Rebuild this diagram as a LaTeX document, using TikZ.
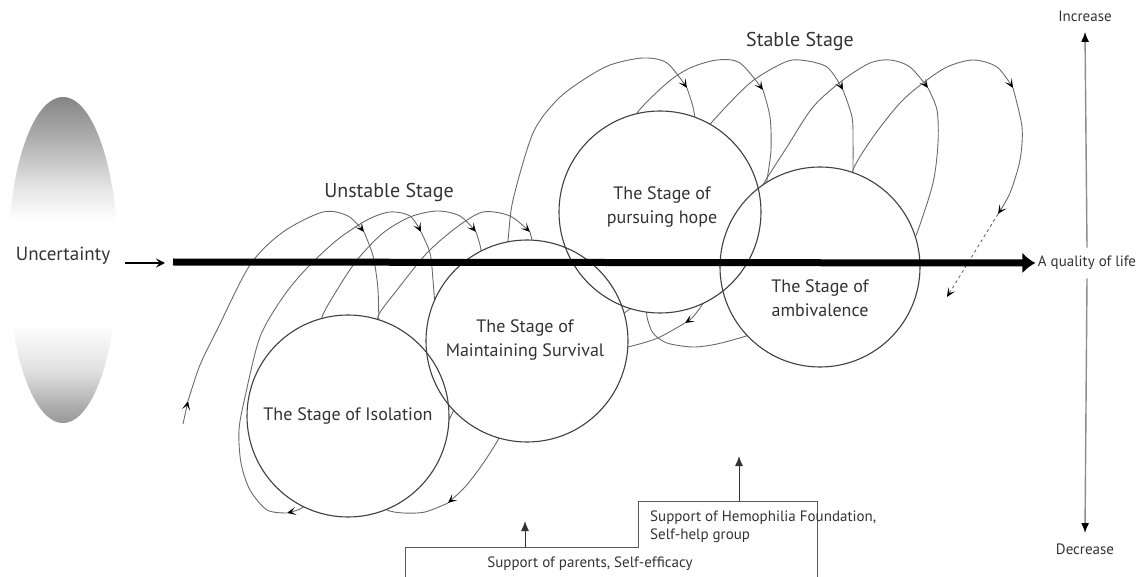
\documentclass[tikz,border=0pt]{standalone}
\usepackage{fontspec}
\setmainfont{PT Sans}
\usetikzlibrary{arrows.meta}
\pgfdeclareverticalshading{uncshade}{100bp}{color(0bp)=(black!42); color(25bp)=(black!40); color(27bp)=(black!34); color(33bp)=(black!12); color(40bp)=(white); color(56bp)=(white); color(61bp)=(black!10); color(68bp)=(black!30); color(75bp)=(black!48); color(100bp)=(black!48)}
\definecolor{txt}{HTML}{333333}
\definecolor{coilgray}{HTML}{6A6A6A}
\tikzset{
  coil/.style={draw=coilgray, line width=0.9pt},
  coilarrow/.style={-{Stealth[length=9pt,width=8pt,inset=4.5pt,color=black]}},
  stagecircle/.style={circle, draw=black!75, line width=1.1pt, minimum size=202pt, inner sep=0pt},
  stagetext/.style={align=center, text=txt, font=\fontsize{18}{24}\selectfont},
  headtext/.style={text=txt, font=\fontsize{20}{24}\selectfont},
  smalltext/.style={text=txt, font=\fontsize{15}{18}\selectfont},
  vline/.style={draw=black!45, line width=1.4pt, -{Latex[length=10pt,width=8pt,color=black]}},
  stair/.style={draw=black!65, line width=1pt},
  suparrow/.style={draw=black!80, line width=1pt, -{Latex[length=10pt,width=8pt]}}
}
\begin{document}
\begin{tikzpicture}[x=1pt,y=-1pt]
\useasboundingbox (0,0) rectangle (1146,577);

% uncertainty ellipse
\shade[shading=uncshade] (63,260) ellipse [x radius=55pt, y radius=163pt];
\node[text=txt, font=\fontsize{19}{22}\selectfont] (unc) at (63,256) {Uncertainty};

% ---------- coil (unstable stage) ----------
\draw[coil,coilarrow] (183,424) -- (188,401);
\draw[coil,coilarrow] plot[smooth] coordinates {(188,401) (200,365) (217,330) (250,265) (283,232) (323,212) (348,216) (364,232)};
\draw[coil] plot[smooth] coordinates {(364,232) (373,256) (378,290) (379,340)};

\draw[coil,coilarrow] plot[smooth] coordinates {(312,500) (300,509) (287,513)};
\draw[coil,coilarrow] plot[smooth] coordinates {(287,513) (267,510) (250,490) (241,463) (239,430) (245,397) (260,337) (283,297) (307,268) (337,240) (367,220) (390,212) (410,216) (421,232)};
\draw[coil] plot[smooth] coordinates {(421,232) (430,253) (433,280) (436,320)};

\draw[coil,coilarrow] plot[smooth] coordinates {(505,425) (498,440) (482,465) (465,487) (448,503)};
\draw[coil] plot[smooth] coordinates {(448,503) (425,512) (403,513) (387,510) (375,500)};

\draw[coil,coilarrow] plot[smooth] coordinates {(325,330) (322,317) (337,290) (357,260) (383,233) (410,217) (437,211) (460,216) (476,232)};
\draw[coil] plot[smooth] coordinates {(476,232) (480,245) (483,262)};

\draw[coil,coilarrow] plot[smooth] coordinates {(380,330) (378,316) (397,290) (427,253) (457,227) (483,212) (510,216) (530,232)};
\draw[coil] plot[smooth] coordinates {(530,232) (533,245) (535,260)};

\draw[coil] (440,440) -- (462,392);

% ---------- coil (stable stage) ----------
\draw[coil,coilarrow] plot[smooth] coordinates {(505,255) (508,240) (513,200) (533,133) (557,100) (583,80) (610,65) (643,58) (667,63) (687,88)};
\draw[coil] plot[smooth] coordinates {(687,88) (693,107) (696,125)};

\draw[coil,coilarrow] plot[smooth] coordinates {(640,125) (637,113) (667,83) (690,68) (717,60) (740,63) (763,90)};
\draw[coil] plot[smooth] coordinates {(763,90) (770,117) (771,150) (767,180) (765,195)};

\draw[coil,coilarrow] plot[smooth] coordinates {(705,135) (712,122) (750,83) (783,63) (800,60) (827,67) (843,90)};
\draw[coil] plot[smooth] coordinates {(843,90) (852,117) (853,143) (853,168) (853,180)};

\draw[coil,coilarrow] plot[smooth] coordinates {(760,190) (767,178) (787,147) (813,107) (843,80) (870,63) (890,60) (910,67) (928,88)};
\draw[coil] plot[smooth] coordinates {(928,88) (937,110) (938,143) (933,183) (917,233) (910,245)};

\draw[coil,coilarrow] plot[smooth] coordinates {(858,185) (853,170) (873,137) (900,103) (923,83) (947,67) (973,60) (997,67) (1013,88)};
\draw[coil,coilarrow] plot[smooth] coordinates {(1013,88) (1022,127) (1020,160) (1010,193) (998,214)};
\coordinate (dashA) at (998,214);
\coordinate (dashB) at (947,297);
\draw[coil,dashed,coilarrow] (dashA) -- (dashB);

\draw[coil,coilarrow] plot[smooth] coordinates {(708,296) (702,305) (693,317) (685,323)};
\draw[coil] plot[smooth] coordinates {(685,323) (660,337) (643,343) (627,347) (615,348)};
\draw[coil] plot[smooth] coordinates {(755,333) (743,337) (717,344) (693,347) (667,343) (653,333) (647,317) (647,305)};
\draw[coil] (612,322) -- (645,298);

% ---------- circles ----------
\fill[white] (348,416) circle [radius=101pt];
\fill[white] (527,341) circle [radius=101pt];
\fill[white] (660,212) circle [radius=101pt];
\fill[white] (820,267) circle [radius=100pt];
\node[stagecircle] (iso) at (348,416) {};
\node[stagecircle] (mnt) at (527,341) {};
\node[stagecircle] (hope) at (660,212) {};
\node[stagecircle, minimum size=200pt] (amb) at (820,267) {};

% ---------- main axis ----------
\node[smalltext] (qol) at (1087,263) {A quality of life};
\coordinate (qstart) at (173,262);
\coordinate (sa) at (125,263);
\coordinate (sb) at (165,263);
\draw[line width=1.6pt, -{Stealth[length=9pt,width=9pt,inset=3.5pt]}] (sa) -- (sb);
\draw[line width=7pt, -{Latex[length=13pt,width=21pt]}] (qstart) -- ([xshift=1pt]qol.west);

% labels
\node[stagetext] (isoT) at (348,416) {The Stage of Isolation};
\node[stagetext] (mntT) at (525,340) {The Stage of\\Maintaining Survival};
\node[stagetext] (hopeT) at (662,207) {The Stage of\\pursuing hope};
\node[stagetext] (ambT) at (820,298) {The Stage of\\ambivalence};
\node[headtext] (unst) at (389,193) {Unstable Stage};
\node[headtext] (stab) at (800,42) {Stable Stage};

% quality axis
\node[smalltext] (inc) at (1085,16) {Increase};
\node[smalltext] (dec) at (1085,549) {Decrease};
\draw[vline] ([yshift=5pt]qol.north) -- ([yshift=-7pt]inc.south);
\draw[vline] ([yshift=-5pt]qol.south) -- ([yshift=7pt]dec.north);

% supports
\draw[stair] (405,577) -- (405,547) -- (638,547) -- (638,501) -- (817,501) -- (817,577);
\node[smalltext] (sp) at (590,564) {Support of parents, Self-efficacy};
\node[smalltext, align=left, anchor=north west, inner sep=0pt] (shf) at (650,511) {Support of Hemophilia Foundation,\\Self-help group};
\coordinate (a1s) at (525,547);
\coordinate (a1e) at (525,521);
\coordinate (a2s) at (739,501);
\coordinate (a2e) at (739,456);
\draw[suparrow] (a1s) -- (a1e);
\draw[suparrow] (a2s) -- (a2e);
\end{tikzpicture}
\end{document}
